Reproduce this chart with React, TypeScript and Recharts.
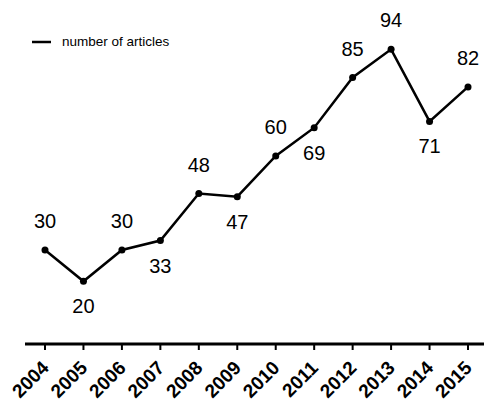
import React from 'react';
import { LineChart, Line, XAxis, YAxis, LabelList } from 'recharts';

const years = ['2004','2005','2006','2007','2008','2009','2010','2011','2012','2013','2014','2015'];
const articles = [30, 20, 30, 33, 48, 47, 60, 69, 85, 94, 71, 82];
const labelsBelow = ['2005','2007','2009','2011','2014'];
const seriesName = 'number of articles';

const data = years.map((y, i) => ({ year: y, value: articles[i] }));

const FONT = '"Liberation Sans", Arial, sans-serif';

const Tick = (props: any) => {
  const { x, y, payload } = props;
  return (
    <g transform={`translate(${x},${y})`}>
      <text
        x={0}
        y={0}
        transform="translate(5,17) rotate(-45)"
        textAnchor="end"
        fontFamily={FONT}
        fontWeight="bold"
        fontSize={19}
        fill="#000"
      >
        {payload.value}
      </text>
    </g>
  );
};

const ValueLabel = (props: any) => {
  const { x, y, value, index } = props;
  const below = labelsBelow.includes(years[index]);
  return (
    <text
      x={x}
      y={below ? y + 32 : y - 22}
      textAnchor="middle"
      fontFamily={FONT}
      fontSize={20}
      fill="#000"
    >
      {value}
    </text>
  );
};

export default function App() {
  return (
    <div style={{ position: 'absolute', left: 0, top: 0, width: 484, height: 403, background: '#fff' }}>
      <LineChart width={484} height={403} data={data} margin={{ top: 30.5, right: 0, bottom: 0, left: 25 }}>
        <XAxis
          dataKey="year"
          height={59}
          padding={{ left: 20, right: 16 }}
          axisLine={{ stroke: '#000', strokeWidth: 3 }}
          tickLine={{ stroke: '#000', strokeWidth: 2 }}
          tickSize={6}
          tick={<Tick />}
          interval={0}
        />
        <YAxis hide domain={[0, 100]} />
        <Line
          dataKey="value"
          name={seriesName}
          stroke="#000"
          strokeWidth={2.5}
          dot={{ r: 3.5, fill: '#000', stroke: '#000', strokeWidth: 0 }}
          isAnimationActive={false}
        >
          <LabelList dataKey="value" content={<ValueLabel />} />
        </Line>
      </LineChart>
      <div
        style={{
          position: 'absolute',
          top: 34,
          left: 32,
          display: 'flex',
          alignItems: 'center',
          fontFamily: FONT,
          fontSize: 13.5,
          color: '#000',
          whiteSpace: 'nowrap',
        }}
      >
        <svg width={19} height={6} style={{ marginRight: 11 }}>
          <line x1={0} y1={3} x2={19} y2={3} stroke="#000" strokeWidth={2.5} />
        </svg>
        <span>{seriesName}</span>
      </div>
    </div>
  );
}
